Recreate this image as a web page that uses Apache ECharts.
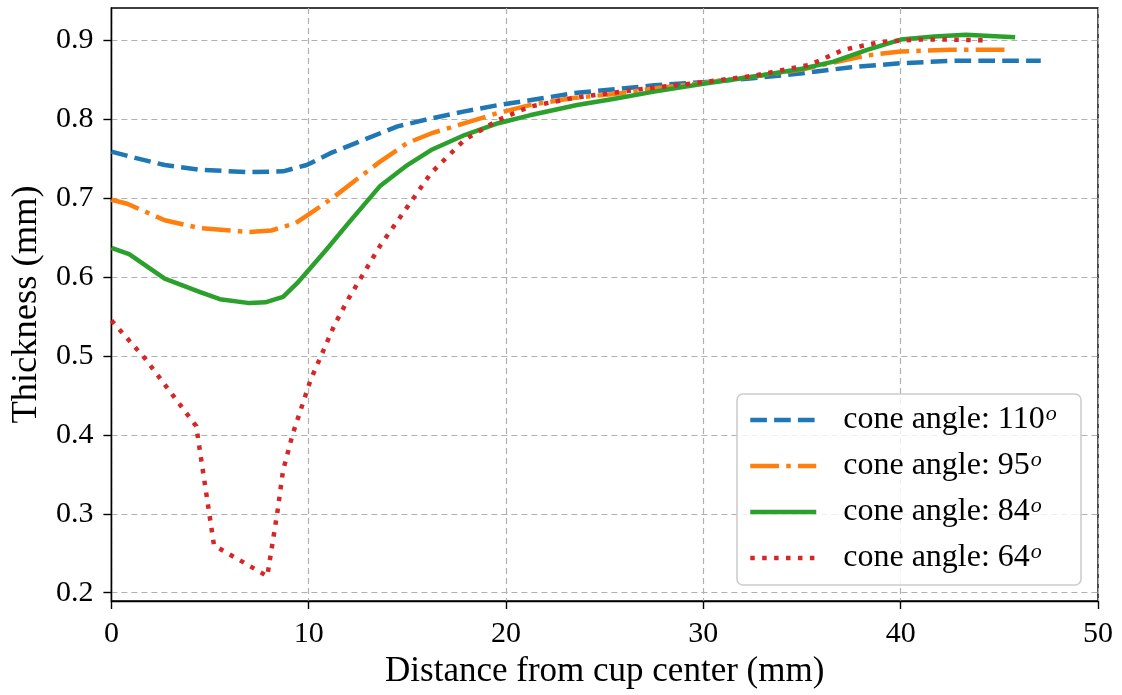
<!DOCTYPE html>
<html>
<head>
<meta charset="utf-8">
<title>Thickness vs distance from cup center</title>
<script src="https://cdn.jsdelivr.net/npm/echarts@6/dist/echarts.min.js"></script>
<style>
  html, body { margin: 0; padding: 0; background: #ffffff; }
  #chart { width: 1122px; height: 695px; }
</style>
</head>
<body>
<div id="chart"></div>
<script>
// Wall thickness profiles (mm) along the distance from the cup center (mm)
const coneAngles = [110, 95, 84, 64];

const x110 = [0, 1.2, 2.7, 4.5, 7.0, 8.7, 9.9, 11.1, 12.8, 14.5, 16.2, 17.9, 19.6, 21.2, 23.4, 25.5, 27.5, 30.0, 32.5, 34.9, 37.5, 40.0, 42.5, 45.0, 47.1];
const y110 = [0.759, 0.751, 0.742, 0.736, 0.733, 0.734, 0.742, 0.757, 0.774, 0.791, 0.801, 0.810, 0.818, 0.824, 0.833, 0.838, 0.843, 0.847, 0.852, 0.858, 0.866, 0.871, 0.874, 0.874, 0.874];

const x95 = [0, 0.8, 2.7, 4.5, 7.0, 8.1, 9.3, 10.1, 11.3, 12.6, 13.6, 15.0, 16.2, 17.9, 19.6, 21.2, 23.4, 25.5, 27.5, 30.0, 32.5, 35.0, 36.6, 38.3, 40.0, 42.5, 45.4];
const y95 = [0.698, 0.693, 0.672, 0.662, 0.657, 0.659, 0.668, 0.681, 0.702, 0.727, 0.746, 0.770, 0.782, 0.795, 0.808, 0.818, 0.827, 0.832, 0.839, 0.846, 0.854, 0.863, 0.872, 0.881, 0.886, 0.888, 0.888];

const x84 = [0, 0.9, 2.7, 4.5, 5.5, 7.0, 7.8, 8.7, 9.4, 10.0, 10.9, 12.0, 13.6, 15.0, 16.2, 17.9, 19.6, 21.2, 23.6, 25.5, 27.5, 30.0, 32.5, 35.0, 36.6, 38.3, 40.0, 41.7, 43.3, 45.8];
const y84 = [0.637, 0.629, 0.598, 0.581, 0.572, 0.567, 0.568, 0.575, 0.592, 0.609, 0.635, 0.668, 0.715, 0.742, 0.761, 0.780, 0.795, 0.805, 0.818, 0.826, 0.835, 0.845, 0.854, 0.864, 0.873, 0.888, 0.901, 0.905, 0.907, 0.904];

const x64 = [0, 1.7, 3.0, 4.3, 5.2, 7.9, 8.4, 8.7, 9.2, 10.1, 11.3, 12.0, 13.6, 15.0, 16.2, 17.9, 19.6, 21.2, 23.4, 25.5, 27.5, 30.0, 32.5, 35.4, 37.1, 39.0, 40.8, 42.5, 44.3];
const y64 = [0.545, 0.497, 0.454, 0.411, 0.260, 0.221, 0.300, 0.355, 0.402, 0.470, 0.539, 0.572, 0.639, 0.689, 0.732, 0.774, 0.799, 0.816, 0.827, 0.834, 0.840, 0.847, 0.855, 0.869, 0.888, 0.898, 0.901, 0.901, 0.900];

const xTicks = [0, 10, 20, 30, 40, 50];
const yTicks = [0.2, 0.3, 0.4, 0.5, 0.6, 0.7, 0.8, 0.9];

const xTitle = 'Distance from cup center (mm)';
const yTitle = 'Thickness (mm)';

const FONT = '"Liberation Serif", "DejaVu Serif", serif';
const colors = ['#1f77b4', '#ff7f0e', '#2ca02c', '#d62728'];
const LW = 4.5;
// dashed, dash-dot, solid, dotted (lengths scale with the line width)
const dashes = [[3.7 * LW, 1.6 * LW], [6.4 * LW, 1.6 * LW, 1 * LW, 1.6 * LW], 'solid', [1 * LW, 1.65 * LW]];

const xs = [x110, x95, x84, x64];
const ys = [y110, y95, y84, y64];

function pairs(a, b) { return a.map((v, i) => [v, b[i]]); }
function seriesName(angle) { return 'cone angle: ' + angle; }

const series = coneAngles.map((angle, k) => ({
  name: seriesName(angle),
  type: 'line',
  data: pairs(xs[k], ys[k]),
  symbol: 'none',
  smooth: false,
  z: 3,
  lineStyle: { color: colors[k], width: LW, type: dashes[k], cap: 'butt', join: 'round' },
  itemStyle: { color: colors[k] },
  emphasis: { disabled: true }
}));

const chart = echarts.init(document.getElementById('chart'), null, { renderer: 'canvas' });

chart.setOption({
  backgroundColor: '#ffffff',
  animation: false,
  grid: {
    left: 110, right: 24, top: 8, bottom: 94,
    containLabel: false,
    show: true,
    borderColor: '#000000',
    borderWidth: 1.4,
    backgroundColor: 'transparent'
  },
  xAxis: {
    type: 'value',
    min: 0, max: 50, interval: 10,
    name: xTitle,
    nameLocation: 'middle',
    nameGap: 52,
    nameTextStyle: { fontFamily: FONT, fontSize: 35, color: '#000' },
    axisLine: { show: true, onZero: false, lineStyle: { color: '#000', width: 1.4 } },
    axisTick: { show: true, length: 8, lineStyle: { color: '#000', width: 1.4 } },
    axisLabel: {
      fontFamily: FONT, fontSize: 30, color: '#000', margin: 18,
      formatter: v => (xTicks.indexOf(v) >= 0 ? String(v) : '')
    },
    splitLine: { show: true, lineStyle: { color: '#b0b0b0', width: 1.2, type: [6, 4] } }
  },
  yAxis: {
    type: 'value',
    min: 0.1895, max: 0.941,
    name: yTitle,
    nameLocation: 'middle',
    nameGap: 66,
    nameRotate: 90,
    nameTextStyle: { fontFamily: FONT, fontSize: 36.5, color: '#000' },
    axisLine: { show: true, onZero: false, lineStyle: { color: '#000', width: 1.4 } },
    axisTick: { show: true, length: 8, customValues: yTicks, lineStyle: { color: '#000', width: 1.4 } },
    axisLabel: {
      fontFamily: FONT, fontSize: 30, color: '#000', margin: 18,
      customValues: yTicks,
      formatter: v => v.toFixed(1)
    },
    splitLine: { show: true, lineStyle: { color: '#b0b0b0', width: 1.2, type: [6, 4] } }
  },
  graphic: [{
    type: 'rect',
    z: 15,
    silent: true,
    shape: { x: 737, y: 394, width: 344, height: 191, r: 6 },
    style: { fill: 'rgba(255,255,255,0.8)', stroke: '#cccccc', lineWidth: 1.6 }
  }],
  legend: {
    z: 20,
    orient: 'vertical',
    left: 748, top: 403,
    padding: 0,
    itemWidth: 66,
    itemHeight: 32,
    itemGap: 10,
    selectedMode: false,
    itemStyle: { opacity: 0 },
    lineStyle: { width: LW },
    data: coneAngles.map(seriesName),
    formatter: name => '{t|' + name + '}{sup|o}',
    textStyle: {
      fontFamily: FONT, fontSize: 32, color: '#000',
      padding: [0, 0, 0, 22],
      rich: {
        t: { fontFamily: FONT, fontSize: 32, color: '#000', lineHeight: 34 },
        sup: { fontFamily: FONT, fontSize: 22, fontStyle: 'italic', color: '#000', verticalAlign: 'top', lineHeight: 34, padding: [0, 0, 14, 1] }
      }
    }
  },
  series: series
});
</script>
</body>
</html>
